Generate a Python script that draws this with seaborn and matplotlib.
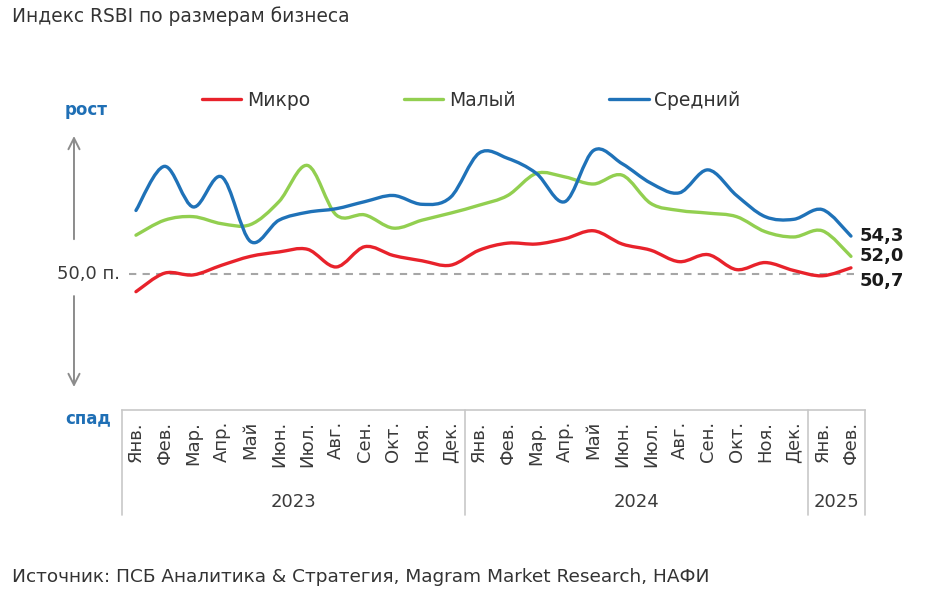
import matplotlib.pyplot as plt
import numpy as np
import pandas as pd
import seaborn as sns
from matplotlib.lines import Line2D
from matplotlib.patches import PathPatch
from matplotlib.path import Path

# --- data ---
month_names = ["Янв.", "Фев.", "Мар.", "Апр.", "Май", "Июн.",
               "Июл.", "Авг.", "Сен.", "Окт.", "Ноя.", "Дек."]
years = ["2023", "2024", "2025"]
months_per_year = [12, 12, 2]
month_labels = month_names + month_names + month_names[:2]

micro = [48.0, 50.1, 49.9, 51.0, 52.0, 52.5, 52.8, 50.8, 53.1, 52.1, 51.5, 51.0,
         52.7, 53.5, 53.4, 54.0, 54.9, 53.4, 52.7, 51.4, 52.2, 50.5, 51.3, 50.4,
         49.8, 50.7]
small = [54.4, 56.1, 56.5, 55.7, 55.6, 58.2, 62.3, 56.7, 56.7, 55.2, 56.1, 56.9,
         57.8, 58.9, 61.4, 61.0, 60.2, 61.2, 58.0, 57.2, 56.9, 56.5, 54.8, 54.2,
         54.9, 52.0]
medium = [57.2, 62.2, 57.6, 61.0, 53.7, 56.1, 57.0, 57.4, 58.2, 58.9, 57.9, 58.7,
          63.7, 63.1, 61.4, 58.2, 64.0, 62.5, 60.3, 59.2, 61.8, 58.9, 56.5, 56.2,
          57.3, 54.3]
baseline = 50.0

series_names = ["Микро", "Малый", "Средний"]
colors = {"Микро": "#e8222b", "Малый": "#92cf50", "Средний": "#1f72b8"}
end_offsets = {"Микро": -9.5, "Малый": 0, "Средний": 0}

df = pd.DataFrame({"idx": np.arange(len(month_labels)),
                   "Микро": micro, "Малый": small, "Средний": medium})
long = df.melt(id_vars="idx", var_name="series", value_name="value")

sns.set_style("white")
plt.rcParams["font.family"] = ["DejaVu Sans"]

fig = plt.figure(figsize=(9.33, 6.11), dpi=100)
ax = fig.add_axes([0.1304, 0.329, 0.797, 0.458])

sns.lineplot(data=long, x="idx", y="value", hue="series", hue_order=series_names,
             palette=colors, linewidth=2.4, legend=False, ax=ax)


def smooth_path(x, y):
    # Catmull-Rom style bezier through the data points (like Excel's smoothed line)
    p = np.column_stack([x, y])
    verts = [p[0]]
    codes = [Path.MOVETO]
    n = len(p)
    for i in range(n - 1):
        p0 = p[max(i - 1, 0)]
        p1, p2 = p[i], p[i + 1]
        p3 = p[min(i + 2, n - 1)]
        c1 = p1 + (p2 - p0) / 6
        c2 = p2 - (p3 - p1) / 6
        verts += [c1, c2, p2]
        codes += [Path.CURVE4] * 3
    return Path(verts, codes)


for line in list(ax.lines):
    x, y = line.get_data()
    patch = PathPatch(smooth_path(np.asarray(x, float), np.asarray(y, float)),
                      facecolor="none", edgecolor=line.get_color(),
                      lw=line.get_linewidth(), capstyle="round", zorder=3)
    ax.add_patch(patch)
    line.remove()

ax.axhline(baseline, xmin=0.01, xmax=0.985, color="#a6a6a6", lw=1.5,
           ls=(0, (3.5, 3)), zorder=1)

ax.set_xlim(-0.5, len(month_labels) - 0.5)
ax.set_ylim(34.6, 66.3)
ax.set_yticks([])
ax.set_xticks(range(len(month_labels)))
ax.set_xticklabels(month_labels, rotation=90, fontsize=13, color="#3a3a3a")
ax.tick_params(axis="x", length=0, pad=8)
ax.set_xlabel("")
ax.set_ylabel("")
for s in ["left", "right", "top"]:
    ax.spines[s].set_visible(False)
ax.spines["bottom"].set_color("#c8c8c8")
ax.spines["bottom"].set_linewidth(1.2)

# year groups under the month labels
trans = ax.get_xaxis_transform()
edges = np.concatenate([[0], np.cumsum(months_per_year)]) - 0.5
for e in edges:
    ax.plot([e, e], [0, -0.375], transform=trans, color="#c8c8c8", lw=1.2,
            clip_on=False)
for yr, a, b in zip(years, edges[:-1], edges[1:]):
    ax.text((a + b) / 2, -0.329, yr, transform=trans, ha="center", va="center",
            fontsize=13, color="#3a3a3a")

ax.text(-0.55, baseline, "50,0 п.", ha="right", va="center", fontsize=13,
        color="#3a3a3a")

# end-of-line values
for name, vals in zip(series_names, [micro, small, medium]):
    ax.annotate(f"{vals[-1]:.1f}".replace(".", ","), xy=(len(vals) - 1, vals[-1]),
                xytext=(6.5, end_offsets[name]), textcoords="offset points",
                ha="left", va="center", fontsize=13, fontweight="bold",
                color="#1a1a1a")

# growth / decline arrows
arrow_kw = dict(arrowstyle="->", color="#8c8c8c", lw=1.4, mutation_scale=20)
ax.annotate("", xy=(0.0793, 0.782), xytext=(0.0793, 0.604),
            xycoords="figure fraction", arrowprops=arrow_kw)
ax.annotate("", xy=(0.0793, 0.362), xytext=(0.0793, 0.520),
            xycoords="figure fraction", arrowprops=arrow_kw)
fig.text(0.0697, 0.82, "рост", ha="left", va="center", fontsize=12,
         fontweight="bold", color="#1f6fb5")
fig.text(0.0697, 0.316, "спад", ha="left", va="center", fontsize=12,
         fontweight="bold", color="#1f6fb5")

handles = [Line2D([], [], color=colors[n], lw=2.4) for n in series_names]
fig.legend(handles, series_names, loc="center", bbox_to_anchor=(0.505, 0.836),
           ncol=3, frameon=False, fontsize=13.5, handlelength=2.1,
           handletextpad=0.3, columnspacing=5.0, labelcolor="#333333")

fig.text(0.0129, 0.974, "Индекс RSBI по размерам бизнеса", ha="left",
         va="center", fontsize=13.4, color="#333333")
fig.text(0.0129, 0.0556,
         "Источник: ПСБ Аналитика & Стратегия, Magram Market Research, НАФИ",
         ha="left", va="center", fontsize=13.3, color="#333333")

fig.savefig("out.png", dpi=100)
